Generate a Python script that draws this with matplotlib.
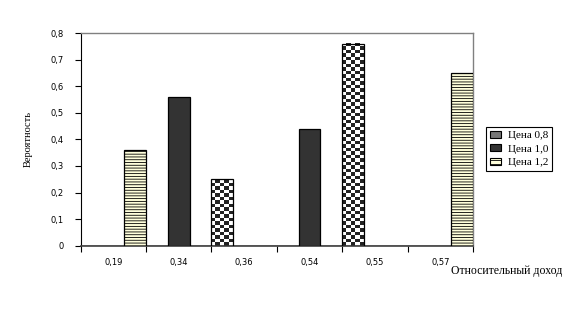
import numpy as np
import matplotlib
import matplotlib.pyplot as plt
from matplotlib.colors import ListedColormap
from matplotlib.patches import Patch
from matplotlib.ticker import FixedLocator, FuncFormatter

# relative income categories and probability per price level
income = ['0,19', '0,34', '0,36', '0,54', '0,55', '0,57']
series_names = ['Цена 0,8', 'Цена 1,0', 'Цена 1,2']
price_08 = [0, 0, 0.25, 0, 0.76, 0]
price_10 = [0, 0.56, 0, 0.44, 0, 0]
price_12 = [0.36, 0, 0, 0, 0, 0.65]

plt.rcParams['hatch.linewidth'] = 0.6
serif = ['Liberation Serif', 'DejaVu Serif']

fig = plt.figure(figsize=(5.75, 3.34), dpi=100)
ax = fig.add_axes([80.7 / 575, 1 - 245.7 / 334, (473 - 80.7) / 575, (245.7 - 33) / 334])

x = np.arange(len(income))
w = 1 / 3
ax.set_xlim(-0.5, len(income) - 0.5)
ax.set_ylim(0, 0.8)

# checkered series: outline only, pattern painted in below
bars08 = ax.bar(x - w, price_08, w, facecolor='none', edgecolor='black', linewidth=0.9, zorder=3)
bars10 = ax.bar(x, price_10, w, facecolor='#333333', edgecolor='black', linewidth=0.9, zorder=3)
bars12 = ax.bar(x + w, price_12, w, facecolor='#ffffdc', edgecolor='black', hatch='------',
                linewidth=0.9, zorder=3)

checker_cmap = ListedColormap(['white', '#222222'])
for rect in bars08:
    h = rect.get_height()
    if h <= 0:
        continue
    x0 = rect.get_x()
    p0 = ax.transData.transform((x0, 0))
    p1 = ax.transData.transform((x0 + rect.get_width(), h))
    nx = max(1, int(round((p1[0] - p0[0]) / 4.3)))
    ny = max(1, int(round((p1[1] - p0[1]) / 3.5)))
    grid = (np.add.outer(np.arange(ny), np.arange(nx)) % 2).astype(float)
    ax.imshow(grid, extent=(x0, x0 + rect.get_width(), 0, h), cmap=checker_cmap,
              interpolation='nearest', aspect='auto', clip_path=rect, zorder=2)
ax.set_xlim(-0.5, len(income) - 0.5)
ax.set_ylim(0, 0.8)

# y axis
ax.set_yticks(np.arange(0, 0.81, 0.1))
ax.yaxis.set_major_formatter(FuncFormatter(lambda v, _: '0' if v == 0 else f'{v:.1f}'.replace('.', ',')))
ax.tick_params(axis='y', direction='out', length=4, width=0.8, labelsize=6, pad=8)

# x axis: ticks on category boundaries, labels centred
ax.xaxis.set_major_locator(FixedLocator(np.arange(-0.5, len(income), 1)))
ax.xaxis.set_minor_locator(FixedLocator(x))
ax.set_xticklabels([])
ax.set_xticklabels(income, minor=True)
ax.tick_params(axis='x', which='major', direction='out', length=4, width=0.8)
ax.tick_params(axis='x', which='minor', length=0, labelsize=6, pad=9)

for side in ('top', 'right'):
    ax.spines[side].set_color('#808080')
    ax.spines[side].set_linewidth(1.0)
ax.spines['left'].set_color('black')
ax.spines['bottom'].set_color('#404040')
ax.spines['bottom'].set_linewidth(1.2)

fig.text(28 / 575, 1 - 139 / 334, 'Вероятность', rotation=90, ha='center', va='center',
         fontsize=7.5, family=serif)
fig.text(562 / 575, 1 - 271 / 334, 'Относительный доход', ha='right', va='center',
         fontsize=8.5, family=serif)

handles = [Patch(facecolor='#777777', edgecolor='black', linewidth=0.8),
           Patch(facecolor='#333333', edgecolor='black', linewidth=0.8),
           Patch(facecolor='#ffffdc', edgecolor='black', hatch='----', linewidth=0.8)]
leg = fig.legend(handles, series_names, loc='upper left', bbox_to_anchor=(486 / 575, 1 - 127 / 334),
                 bbox_transform=fig.transFigure, borderaxespad=0, fancybox=False, framealpha=1,
                 edgecolor='black', prop={'family': serif, 'size': 8}, handlelength=1.0,
                 handleheight=0.6, handletextpad=0.6, labelspacing=0.35, borderpad=0.35)
leg.get_frame().set_linewidth(0.8)

fig.savefig('out.png', dpi=100)
